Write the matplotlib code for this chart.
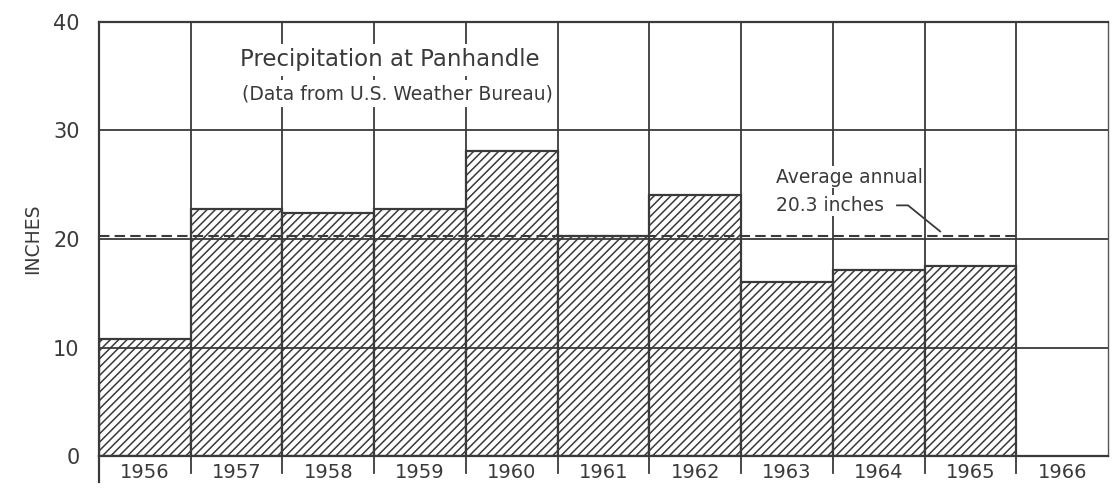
import numpy as np
import matplotlib
matplotlib.use('Agg')
import matplotlib.pyplot as plt

years = [1956, 1957, 1958, 1959, 1960, 1961, 1962, 1963, 1964, 1965, 1966]
precip = [10.8, 22.8, 22.4, 22.8, 28.1, 20.3, 24.1, 16.0, 17.1, 17.5]
average = 20.3
y_ticks = [0, 10, 20, 30, 40]

ink = '#3a3a3a'
plt.rcParams['font.family'] = ['DejaVu Sans']
plt.rcParams['hatch.linewidth'] = 1.1
plt.rcParams['hatch.color'] = ink

fig = plt.figure(figsize=(11.14, 4.93), dpi=100)
ax = fig.add_axes([99 / 1114, 37 / 493, 1009 / 1114, 434 / 493])

ax.bar(years[:len(precip)], precip, width=1, align='edge', facecolor='white',
       edgecolor=ink, linewidth=1.6, hatch='////', zorder=2)

# grid
for y in y_ticks[1:]:
    ax.axhline(y, color=ink, lw=1.3, zorder=3)
for x in years[1:]:
    ax.axvline(x, color=ink, lw=1.3, zorder=3)
    ax.plot([x, x], [0, -1.6], color=ink, lw=1.3, clip_on=False)
ax.plot([years[0], years[0]], [0, -2.4], color=ink, lw=1.6, clip_on=False)

ax.axhline(average, xmin=0, xmax=(1965 + 1 - years[0]) / 11, color=ink,
           lw=1.5, ls=(0, (5, 2.5)), zorder=4)

ax.set_xlim(years[0], years[-1] + 1)
ax.set_ylim(0, 40)
ax.set_xticks([y + 0.5 for y in years])
ax.set_xticklabels([str(y) for y in years], fontsize=14, color=ink)
ax.set_yticks(y_ticks)
ax.set_yticklabels([str(t) for t in y_ticks], fontsize=15, color=ink)
ax.tick_params(length=0, pad=14)
ax.tick_params(axis='x', pad=5)
ax.set_ylabel('INCHES', fontsize=13.5, color=ink, labelpad=8)

for side in ['left', 'bottom', 'top']:
    ax.spines[side].set_color(ink)
    ax.spines[side].set_linewidth(1.6)
ax.spines['right'].set_color('#555555')
ax.spines['right'].set_linewidth(1.0)

box = dict(facecolor='white', edgecolor='none', pad=3)
ax.text(1959.17, 36.5, 'Precipitation at Panhandle', fontsize=16.5, color=ink,
        ha='center', va='center', bbox=box, zorder=5)
ax.text(1959.25, 33.4, '(Data from U.S. Weather Bureau)', fontsize=13.5,
        color=ink, ha='center', va='center', bbox=box, zorder=5)

ax.text(1963.38, 25.7, 'Average annual', fontsize=13.5, color=ink, ha='left',
        va='center', bbox=dict(facecolor='white', edgecolor='none', pad=1), zorder=5)
ax.text(1963.38, 23.1, '20.3 inches', fontsize=13.5, color=ink, ha='left',
        va='center', bbox=dict(facecolor='white', edgecolor='none', pad=1), zorder=5)
ax.plot([1964.7, 1964.82, 1965.17], [23.1, 23.1, 20.7], color=ink, lw=1.3, zorder=5)

fig.savefig('out.png', dpi=100, facecolor='white')
